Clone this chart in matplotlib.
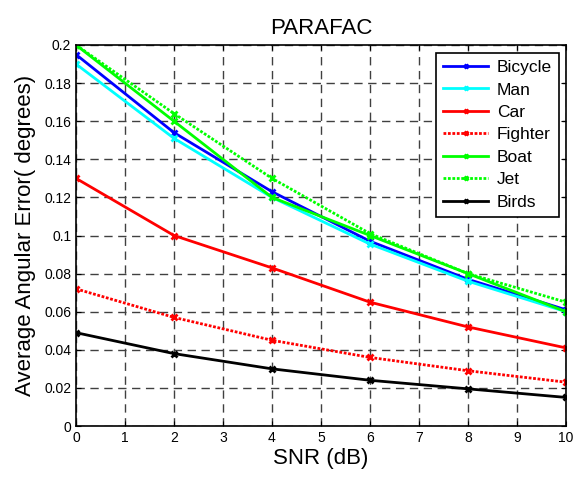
import matplotlib
matplotlib.use("Agg")
import matplotlib.pyplot as plt

plt.rcParams['font.family'] = ['Liberation Sans', 'DejaVu Sans']

snr = [0, 2, 4, 6, 8, 10]
bicycle = [0.195, 0.154, 0.123, 0.097, 0.077, 0.061]
man = [0.190, 0.151, 0.120, 0.0955, 0.076, 0.060]
car = [0.130, 0.100, 0.083, 0.065, 0.052, 0.041]
fighter = [0.072, 0.057, 0.045, 0.036, 0.029, 0.023]
boat = [0.200, 0.160, 0.120, 0.100, 0.080, 0.060]
jet = [0.200, 0.164, 0.130, 0.101, 0.080, 0.065]
birds = [0.049, 0.038, 0.030, 0.024, 0.0195, 0.015]

dots = (0, (1, 0.6))
series = [
    ("Bicycle", bicycle, "#0000ff", "-"),
    ("Man", man, "#00ffff", "-"),
    ("Car", car, "#ff0000", "-"),
    ("Fighter", fighter, "#ff0000", dots),
    ("Boat", boat, "#00ff00", "-"),
    ("Jet", jet, "#00ff00", dots),
    ("Birds", birds, "#000000", "-"),
]

fig = plt.figure(figsize=(5.74, 4.78), dpi=100)
ax = fig.add_axes([76 / 574, 1 - 426 / 478, 490 / 574, 381 / 478])

for name, vals, col, ls in series:
    ax.plot(snr, vals, color=col, linestyle=ls, linewidth=2, marker='x',
            markersize=5, markeredgewidth=2, label=name)

ax.set_xlim(0, 10)
ax.set_ylim(0, 0.2)
ax.set_xticks(range(0, 11))
ax.set_yticks([0, 0.02, 0.04, 0.06, 0.08, 0.1, 0.12, 0.14, 0.16, 0.18, 0.2])
ax.set_yticklabels(['0', '0.02', '0.04', '0.06', '0.08', '0.1', '0.12', '0.14',
                    '0.16', '0.18', '0.2'])
ax.tick_params(direction='in', labelsize=10, top=True, right=True)
ax.grid(True, color='#404040', linestyle=(0, (6, 4)), linewidth=1)
for s in ax.spines.values():
    s.set_linewidth(1.2)

ax.set_title("PARAFAC", fontsize=16, pad=8)
ax.set_xlabel("SNR (dB)", fontsize=16, labelpad=2)
ax.set_ylabel("Average Angular Error( degrees)", fontsize=16, labelpad=6)

leg = ax.legend(loc='upper right', fontsize=12.5, fancybox=False, framealpha=1,
                edgecolor='black', handlelength=2.6, borderpad=0.4,
                labelspacing=0.42, markerscale=0.6, handletextpad=0.5,
                borderaxespad=0, bbox_to_anchor=(0.986, 0.979))
leg.get_frame().set_linewidth(1.2)

fig.savefig("out.png", dpi=100)
